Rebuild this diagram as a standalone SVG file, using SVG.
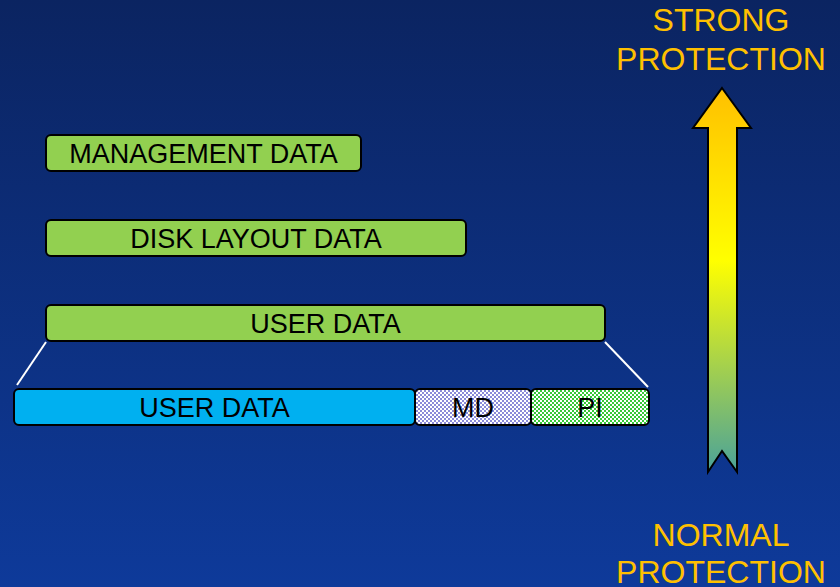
<svg xmlns="http://www.w3.org/2000/svg" width="840" height="587" viewBox="0 0 840 587">
<defs>
<linearGradient id="bg" x1="0" y1="0" x2="0" y2="1">
<stop offset="0" stop-color="#0b2461"/>
<stop offset="1" stop-color="#0e3a9a"/>
</linearGradient>
<linearGradient id="arrowGrad" x1="0" y1="0" x2="0" y2="1">
<stop offset="0" stop-color="#ffc000"/>
<stop offset="0.45" stop-color="#ffff00"/>
<stop offset="1" stop-color="#4aa29a"/>
</linearGradient>
<pattern id="chkMD" width="4" height="4" patternUnits="userSpaceOnUse">
<rect width="4" height="4" fill="#8a8ad8"/>
<rect width="2" height="2" fill="#ffffff"/>
<rect x="2" y="2" width="2" height="2" fill="#ffffff"/>
</pattern>
<pattern id="chkPI" width="4" height="4" patternUnits="userSpaceOnUse">
<rect width="4" height="4" fill="#38c838"/>
<rect width="2" height="2" fill="#ffffff"/>
<rect x="2" y="2" width="2" height="2" fill="#ffffff"/>
</pattern>
</defs>
<style>
.box{stroke:#000;stroke-width:2}
.green{fill:#92d050}
.lbl{font-family:"Liberation Sans",Arial,sans-serif;font-size:27px;fill:#000;text-anchor:middle}
.big{font-family:"Liberation Sans",Arial,sans-serif;font-size:32px;fill:#ffc000;text-anchor:middle}
.conn{stroke:#ffffff;stroke-width:2;fill:none}
</style>
<rect width="840" height="587" fill="url(#bg)"/>
<g id="management-data">
<rect class="box green" x="46" y="135" width="315" height="36" rx="5"/>
<text class="lbl" x="203.5" y="163">MANAGEMENT DATA</text>
</g>
<g id="disk-layout-data">
<rect class="box green" x="46" y="220" width="420" height="36" rx="5"/>
<text class="lbl" x="256" y="248">DISK LAYOUT DATA</text>
</g>
<g id="user-data-top">
<rect class="box green" x="46" y="305" width="559" height="36" rx="5"/>
<text class="lbl" x="325.5" y="333">USER DATA</text>
</g>
<g id="connectors">
<line class="conn" x1="46" y1="342" x2="17" y2="385"/>
<line class="conn" x1="605" y1="342" x2="648" y2="387"/>
</g>
<g id="user-data-bottom">
<rect class="box" fill="#00b0f0" x="14" y="389" width="401" height="36" rx="5"/>
<text class="lbl" x="214.5" y="417">USER DATA</text>
</g>
<g id="md">
<rect class="box" fill="url(#chkMD)" x="415" y="389" width="116" height="36" rx="5"/>
<text class="lbl" x="473" y="417">MD</text>
</g>
<g id="pi">
<rect class="box" fill="url(#chkPI)" x="531" y="389" width="118" height="36" rx="5"/>
<text class="lbl" x="590" y="417">PI</text>
</g>
<g id="arrow">
<path d="M722,88 L751,128 L737,128 L737,472 L722,451 L708,472 L708,128 L693,128 Z" fill="url(#arrowGrad)" stroke="#000" stroke-width="2" stroke-linejoin="miter"/>
</g>
<g id="labels">
<text class="big" x="721" y="31">STRONG</text>
<text class="big" x="721" y="70">PROTECTION</text>
<text class="big" x="721" y="546">NORMAL</text>
<text class="big" x="721" y="583">PROTECTION</text>
</g>
</svg>
